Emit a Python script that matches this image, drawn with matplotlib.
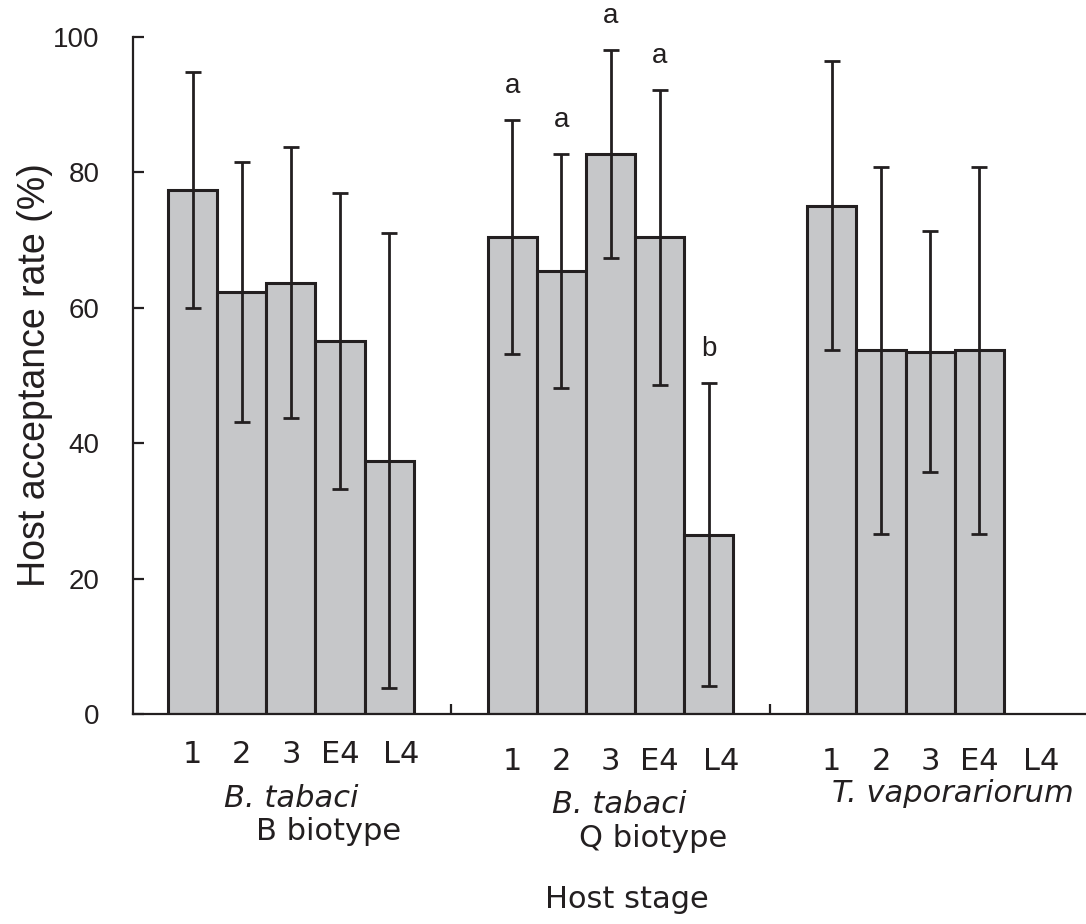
import matplotlib.pyplot as plt
import numpy as np

# host-stage acceptance rates, mean and SD per stage
stages = ["1", "2", "3", "E4", "L4"]

b_mean = [77.4, 62.4, 63.7, 55.1, 37.4]
b_sd = [17.4, 19.2, 20.0, 21.8, 33.6]
q_mean = [70.4, 65.4, 82.7, 70.4, 26.5]
q_sd = [17.3, 17.3, 15.4, 21.8, 22.4]
t_mean = [75.1, 53.7, 53.5, 53.7]   # no L4 data
t_sd = [21.3, 27.1, 17.8, 27.1]
q_letters = ["a", "a", "a", "a", "b"]

means = [b_mean, q_mean, t_mean]
sds = [b_sd, q_sd, t_sd]

sans = ["Liberation Sans", "DejaVu Sans"]
gothic = ["DejaVu Sans"]
ink = "#231f20"
fill = "#c6c7c9"

fig = plt.figure(figsize=(10.86, 9.24), dpi=100)
ax = fig.add_axes([0.1225, 0.2273, 0.8775, 0.7327])
ax_h = 677.0  # axes height in pixels, used for label offsets below the axis

period = 6.5

for g, (m, s) in enumerate(zip(means, sds)):
    x = g * period + np.arange(len(m))
    ax.bar(x, m, width=1.0, color=fill, edgecolor=ink, linewidth=2.2, zorder=2)
    ax.errorbar(x, m, yerr=s, fmt="none", ecolor=ink, elinewidth=2.0,
                capsize=6, capthick=2.0, zorder=3)

# significance letters over Q biotype
xq = period + np.arange(len(q_mean))
for xi, mi, si, lab in zip(xq, q_mean, q_sd, q_letters):
    ax.text(xi, mi + si + 4.0, lab, ha="center", va="baseline",
            fontsize=20, family=sans, color=ink)

ax.set_xlim(-1.21, 18.17)
ax.set_ylim(0, 100)

for side in ["top", "right"]:
    ax.spines[side].set_visible(False)
for side in ["left", "bottom"]:
    ax.spines[side].set_linewidth(1.6)
    ax.spines[side].set_color(ink)

ax.set_yticks([0, 20, 40, 60, 80, 100])
ax.tick_params(axis="y", direction="in", length=8, width=1.6, color=ink,
               labelsize=20, pad=24, labelcolor=ink)
for t in ax.get_yticklabels():
    t.set_family(sans)

# group separators as short inward ticks on the x axis
ax.set_xticks([5.25, period + 5.25])
ax.set_xticklabels([])
ax.tick_params(axis="x", direction="in", length=7, width=1.6, color=ink)

trans = ax.get_xaxis_transform()

def below(px):
    return -px / ax_h

# stage labels under each group
tick_base = [49, 56, 56]
for g in range(3):
    x = g * period + np.arange(len(stages))
    for xi, st in zip(x, stages):
        dx = 0.25 if st == "L4" else 0.0
        ax.text(xi + dx, below(tick_base[g]), st, transform=trans, ha="center",
                va="baseline", fontsize=22, family=gothic, color=ink)

# group names
ax.text(2.0, below(93), "B. tabaci", transform=trans, ha="center",
        va="baseline", fontsize=22, family=gothic, style="italic", color=ink)
ax.text(2.77, below(126), "B biotype", transform=trans, ha="center",
        va="baseline", fontsize=22, family=gothic, color=ink)
ax.text(period + 2.17, below(99), "B. tabaci", transform=trans, ha="center",
        va="baseline", fontsize=22, family=gothic, style="italic", color=ink)
ax.text(period + 2.86, below(133), "Q biotype", transform=trans, ha="center",
        va="baseline", fontsize=22, family=gothic, color=ink)
ax.text(2 * period + 2.46, below(88), "T. vaporariorum", transform=trans,
        ha="center", va="baseline", fontsize=22, family=gothic,
        style="italic", color=ink)

ax.text(8.83, below(194), "Host stage", transform=trans, ha="center",
        va="baseline", fontsize=22, family=gothic, color=ink)

ax.set_ylabel("Host acceptance rate (%)", fontsize=27, family=sans,
              color=ink, labelpad=0)

fig.savefig("out.png", dpi=100)
